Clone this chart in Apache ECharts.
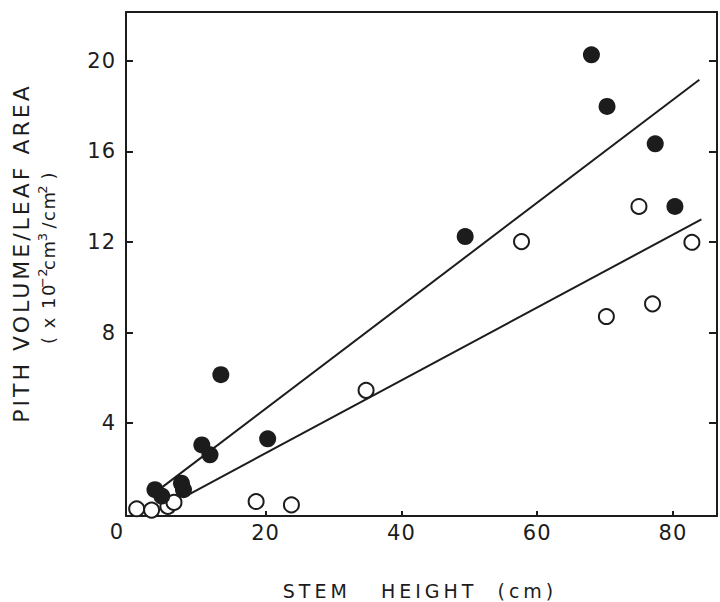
<!DOCTYPE html>
<html>
<head>
<meta charset="utf-8">
<script src="https://cdn.jsdelivr.net/npm/echarts@6/dist/echarts.min.js"></script>
<style>
  html, body { margin: 0; padding: 0; background: #fff; }
  #chart { width: 720px; height: 602px; }
  /* wide lettering for the axis titles (SVG renderer keeps text as <text>) */
  #chart svg text[style*="19px"] { letter-spacing: 4px; }
  #chart svg text[style*="22px"] { letter-spacing: 3px; }
  #chart svg text[style*="18px"] { letter-spacing: 1.5px; }
  #chart svg text[style*="13px"] { letter-spacing: 0.5px; }
  #chart svg text[style*="21px"] { letter-spacing: 1px; }
</style>
</head>
<body>
<div id="chart"></div>
<script>
// Tick positions
const xTicks = [20, 40, 60, 80];
const yTicks = [4, 8, 12, 16, 20];

// Filled circles
const filledX = [3.7, 4.7, 7.6, 7.9, 10.6, 11.8, 13.4, 20.3, 49.4, 68.0, 70.3, 77.4, 80.3];
const filledY = [1.06, 0.78, 1.35, 1.06, 3.04, 2.60, 6.14, 3.31, 12.24, 20.27, 17.99, 16.34, 13.57];

// Open circles
const openX = [1.0, 3.2, 5.6, 6.5, 18.6, 23.8, 34.8, 57.7, 70.2, 75.0, 77.0, 82.8];
const openY = [0.22, 0.16, 0.32, 0.50, 0.54, 0.39, 5.45, 12.02, 8.71, 13.57, 9.27, 11.99];

// Fitted lines (end points)
const upperFitX = [4.0, 83.9];
const upperFitY = [1.0, 19.17];
const lowerFitX = [8.1, 84.2];
const lowerFitY = [0.76, 13.0];

const INK = '#1c1c1c';
const FONT = 'DejaVu Sans';

const pairs = (xs, ys) => xs.map((x, i) => [x, ys[i]]);

const axisLine = { show: true, onZero: false, lineStyle: { color: INK, width: 2 } };
const xRange = { min: -0.57, max: 86.5 };
const yRange = { min: -0.1, max: 22.16 };

const chart = echarts.init(document.getElementById('chart'), null, { renderer: 'svg' });

chart.setOption({
  animation: false,
  backgroundColor: '#fff',
  grid: { left: 126, right: 3, top: 12, bottom: 86, containLabel: false, outerBoundsMode: 'none' },
  xAxis: [
    {
      type: 'value', position: 'bottom', ...xRange,
      axisLine,
      axisTick: { show: true, inside: true, length: 5, customValues: xTicks, lineStyle: { color: INK, width: 2 } },
      axisLabel: { customValues: xTicks, fontSize: 21, fontFamily: FONT, color: INK, margin: 6 },
      splitLine: { show: false }
    },
    {
      type: 'value', position: 'top', ...xRange,
      axisLine,
      axisTick: { show: false },
      axisLabel: { show: false },
      splitLine: { show: false }
    }
  ],
  yAxis: [
    {
      type: 'value', position: 'left', ...yRange,
      axisLine,
      axisTick: { show: true, inside: true, length: 7, customValues: yTicks, lineStyle: { color: INK, width: 2 } },
      axisLabel: { customValues: yTicks, fontSize: 21, fontFamily: FONT, color: INK, margin: 10 },
      splitLine: { show: false }
    },
    {
      type: 'value', position: 'right', ...yRange,
      axisLine,
      axisTick: { show: true, inside: true, length: 8, customValues: yTicks, lineStyle: { color: INK, width: 2 } },
      axisLabel: { show: false },
      splitLine: { show: false }
    }
  ],
  series: [
    {
      type: 'line', data: pairs(upperFitX, upperFitY), showSymbol: false, symbol: 'none',
      lineStyle: { color: INK, width: 2 }, silent: true, z: 2
    },
    {
      type: 'line', data: pairs(lowerFitX, lowerFitY), showSymbol: false, symbol: 'none',
      lineStyle: { color: INK, width: 2 }, silent: true, z: 2
    },
    {
      type: 'scatter', data: pairs(openX, openY), symbol: 'circle', symbolSize: 15,
      itemStyle: { color: '#fff', borderColor: INK, borderWidth: 2, opacity: 1 }, z: 3
    },
    {
      type: 'scatter', data: pairs(filledX, filledY), symbol: 'circle', symbolSize: 17,
      itemStyle: { color: INK, opacity: 1 }, z: 4
    }
  ],
  graphic: [
    {
      type: 'text', x: 117, y: 532,
      style: { text: '0', fontSize: 21, fontFamily: FONT, fill: INK, align: 'center', verticalAlign: 'middle' }
    },
    {
      type: 'text', x: 420, y: 591,
      style: { text: 'STEM   HEIGHT  (cm)', fontSize: 19, fontFamily: FONT, fill: INK, align: 'center', verticalAlign: 'middle' }
    },
    {
      type: 'text', x: 21, y: 253, rotation: Math.PI / 2,
      style: { text: 'PITH VOLUME/LEAF AREA', fontSize: 22, fontFamily: FONT, fill: INK, align: 'center', verticalAlign: 'middle' }
    },
    {
      type: 'text', x: 48, y: 256, rotation: Math.PI / 2,
      style: {
        text: '{n|( x 10}{s|\u22122}{n|cm}{s|3}{n| /cm}{s|2}{n| )}',
        fill: INK, align: 'center', verticalAlign: 'middle',
        rich: {
          n: { fontSize: 18, fontFamily: FONT, fill: INK, lineHeight: 24, verticalAlign: 'middle' },
          s: { fontSize: 13, fontFamily: FONT, fill: INK, lineHeight: 13, verticalAlign: 'top' }
        }
      }
    }
  ]
});
</script>
</body>
</html>
